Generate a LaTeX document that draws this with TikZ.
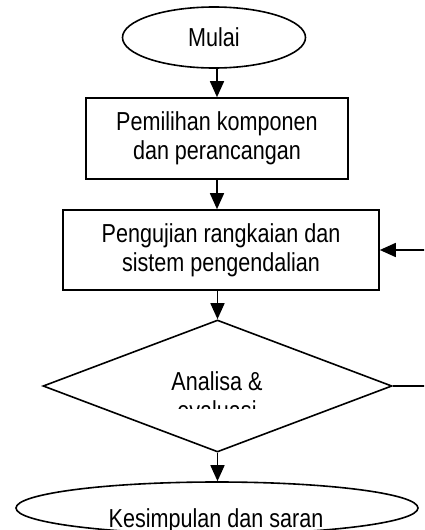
\documentclass[tikz,border=0pt]{standalone}
\usepackage{fontspec}
\setmainfont[FakeStretch=0.83]{Liberation Sans}
\usetikzlibrary{shapes.geometric,arrows.meta}
\tikzset{
    flowline/.style={line width=1.6pt},
    arr/.style={flowline,-{Triangle[length=16pt,width=14pt]}},
    term/.style={draw,flowline,ellipse,inner sep=0pt},
    proc/.style={draw,flowline,rectangle,align=center,inner sep=0pt},
    dec/.style={draw,flowline,diamond,inner sep=0pt},
    lbl/.style={align=center,inner sep=0pt},
}
\begin{document}
\begin{tikzpicture}[x=1pt,y=-1pt,font=\fontsize{26}{29}\selectfont]
        \useasboundingbox (0,0) rectangle (424,530);
        \clip (0,0) rectangle (424,530);
        \node[term,minimum width=183pt,minimum height=61pt] (mulai) at (214,37.5) {Mulai};
        \node[proc,minimum width=262pt,minimum height=81pt] (pilih) at (217,138.5) {Pemilihan komponen\\dan perancangan};
        \node[proc,minimum width=316pt,minimum height=80pt] (uji) at (221,250) {Pengujian rangkaian dan\\sistem pengendalian};
        \node[dec,minimum width=349pt,minimum height=132pt] (analisa) at (217.5,386) {};
        \node[term,minimum width=402pt,minimum height=52pt] (akhir) at (217,508) {};
        \begin{scope}
            \clip (43,350) rectangle (392,408);
            \node[lbl,anchor=north] (analisatxt) at (217,371) {Analisa \&\\evaluasi};
        \end{scope}
        \node[lbl,anchor=base] (akhirtxt) at (216,527) {Kesimpulan dan saran};
        \draw[arr] (mulai.south -| pilih.north) -- (pilih.north);
        \draw[arr] (pilih.south) -- (pilih.south |- uji.north);
        \draw[arr] (uji.south -| analisa.north) -- (analisa.north);
        \draw[arr] (analisa.south) -- (analisa.south |- akhir.north);
        \coordinate (balik) at (440,254);
        \draw[arr] (analisa.east) -| (balik) |- (uji.east);
\end{tikzpicture}
\end{document}
